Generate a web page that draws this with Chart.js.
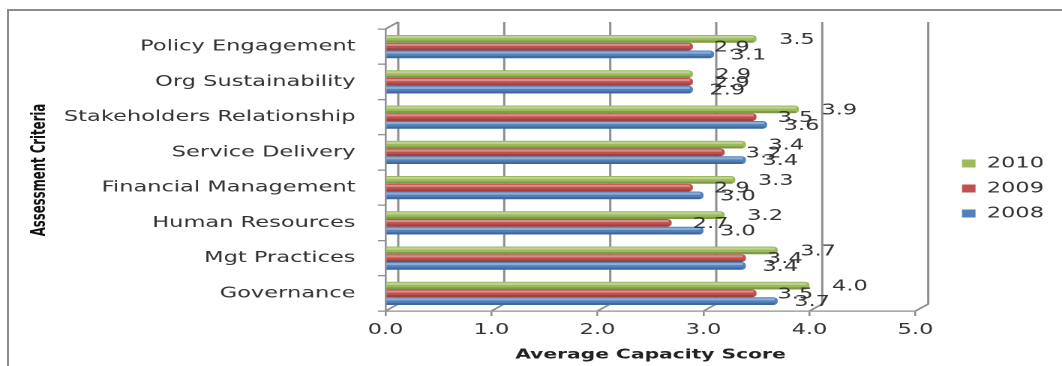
<!DOCTYPE html>
<html>
<head>
<meta charset="utf-8">
<script src="https://cdn.jsdelivr.net/npm/chart.js@4.4.1/dist/chart.umd.min.js"></script>
<style>
  html, body { margin: 0; padding: 0; background: #fff; overflow: hidden; }
  #frame { position: absolute; left: 7px; top: 9px; width: 1100px; height: 400px;
           border-left: 2px solid #8c8c8c; border-top: 2px solid #8c8c8c; }
  /* the source picture is stretched sideways, so the canvas is too */
  #wrap { position: absolute; left: 0; top: 0; width: 708px; height: 366px;
          transform: scaleX(1.5); transform-origin: 0 0; }
</style>
</head>
<body>
<div id="frame"></div>
<div id="wrap"><canvas id="grafico" width="708" height="366"></canvas></div>
<script>
const categories = ['Policy Engagement', 'Org Sustainability', 'Stakeholders Relationship',
    'Service Delivery', 'Financial Management', 'Human Resources', 'Mgt Practices', 'Governance'];
const years = ['2010', '2009', '2008'];
const scores2010 = [3.5, 2.9, 3.9, 3.4, 3.3, 3.2, 3.7, 4.0];
const scores2009 = [2.9, 2.9, 3.5, 3.2, 2.9, 2.7, 3.4, 3.5];
const scores2008 = [3.1, 2.9, 3.6, 3.4, 3.0, 3.0, 3.4, 3.7];

const colors = ['#9bbb59', '#c0504d', '#4f81bd'];
const labelShift = [15, 14, 11];
const depth = { dx: 8.5, dy: 7 };
const gray = '#8f8f8f';
const txt = '#333333';
const font = { family: "'DejaVu Sans', sans-serif", size: 15 };

// back walls and floor lines of the 3d look
const walls3d = {
    id: 'walls3d',
    beforeDatasetsDraw(chart) {
        const { ctx, chartArea: a, scales: { x } } = chart;
        ctx.save();
        ctx.strokeStyle = gray;
        ctx.lineWidth = 1.5;
        ctx.beginPath();
        x.ticks.forEach(t => {
            const px = x.getPixelForValue(t.value);
            ctx.moveTo(px, a.bottom);
            ctx.lineTo(px + depth.dx, a.bottom - depth.dy);
            ctx.lineTo(px + depth.dx, a.top - depth.dy);
        });
        ctx.moveTo(a.left, a.top);
        ctx.lineTo(a.left + depth.dx, a.top - depth.dy);
        ctx.stroke();
        ctx.restore();
    }
};

// light top / dark bottom stripe on each bar
const barShade = {
    id: 'barShade',
    afterDatasetsDraw(chart) {
        const ctx = chart.ctx;
        ctx.save();
        chart.data.datasets.forEach((ds, i) => {
            chart.getDatasetMeta(i).data.forEach(bar => {
                const h = bar.height, top = bar.y - h / 2, w = bar.x - bar.base - 2;
                ctx.fillStyle = 'rgba(255,255,255,0.35)';
                ctx.fillRect(bar.base, top + 1, w, h * 0.28);
                ctx.fillStyle = 'rgba(0,0,0,0.18)';
                ctx.fillRect(bar.base, top + h * 0.72, w, h * 0.28);
            });
        });
        ctx.restore();
    }
};

const valueLabels = {
    id: 'valueLabels',
    afterDatasetsDraw(chart) {
        const ctx = chart.ctx;
        ctx.save();
        ctx.font = "15px 'DejaVu Sans', sans-serif";
        ctx.fillStyle = txt;
        ctx.textAlign = 'left';
        ctx.textBaseline = 'middle';
        chart.data.datasets.forEach((ds, i) => {
            chart.getDatasetMeta(i).data.forEach((bar, j) => {
                ctx.fillText(ds.data[j].toFixed(1), bar.x + labelShift[i], bar.y + 1);
            });
        });
        ctx.restore();
    }
};

// move the legend a little away from the plot and up
const legendNudge = {
    id: 'legendNudge',
    afterLayout(chart) {
        const lg = chart.legend;
        const dx = chart.chartArea.right + 21 - lg.left;
        lg.left += dx;
        lg.right += dx;
        lg.top -= 9;
        lg.bottom -= 9;
    }
};

const ctx = document.getElementById('grafico');

const data = {
    labels: categories,
    datasets: [
        { label: years[0], data: scores2010, backgroundColor: colors[0] },
        { label: years[1], data: scores2009, backgroundColor: colors[1] },
        { label: years[2], data: scores2008, backgroundColor: colors[2] }
    ]
};

const options = {
    indexAxis: 'y',
    responsive: false,
    devicePixelRatio: 2,
    animation: false,
    layout: {
        padding: { top: 29, left: 15, right: 23, bottom: 0 }
    },
    datasets: {
        bar: {
            categoryPercentage: 0.66,
            barPercentage: 1,
            borderWidth: 0,
            borderRadius: 3,
            borderSkipped: 'start'
        }
    },
    scales: {
        x: {
            min: 0,
            max: 5,
            ticks: {
                stepSize: 1,
                callback: v => Number(v).toFixed(1),
                font: font,
                color: txt,
                padding: 5
            },
            grid: { drawOnChartArea: false, tickLength: 5, color: gray, lineWidth: 1.3 },
            border: { color: gray, width: 1.3 },
            title: {
                display: true,
                text: 'Average Capacity Score',
                font: { family: "'DejaVu Sans', sans-serif", size: 13.5, weight: 'bold' },
                color: '#222',
                padding: { top: 0, bottom: 3 }
            },
            afterFit: s => { s.height = 55; }
        },
        y: {
            ticks: { font: font, color: txt, padding: 15 },
            grid: { drawOnChartArea: false, tickLength: 5, color: gray, lineWidth: 1.3 },
            border: { color: gray, width: 1.3 },
            title: {
                display: true,
                text: 'Assessment Criteria',
                font: { family: "'Liberation Sans Narrow', 'DejaVu Sans Condensed', sans-serif", size: 13, weight: 'bold' },
                color: '#111',
                padding: { top: 4, bottom: 0 }
            },
            afterFit: s => { s.width = 242; }
        }
    },
    plugins: {
        legend: {
            position: 'right',
            labels: {
                boxWidth: 9,
                boxHeight: 8,
                padding: 10,
                font: font,
                color: txt
            }
        },
        tooltip: { enabled: false }
    }
};

const myChart = new Chart(ctx, {
    type: 'bar',
    data: data,
    options: options,
    plugins: [walls3d, barShade, valueLabels, legendNudge]
});
</script>
</body>
</html>
